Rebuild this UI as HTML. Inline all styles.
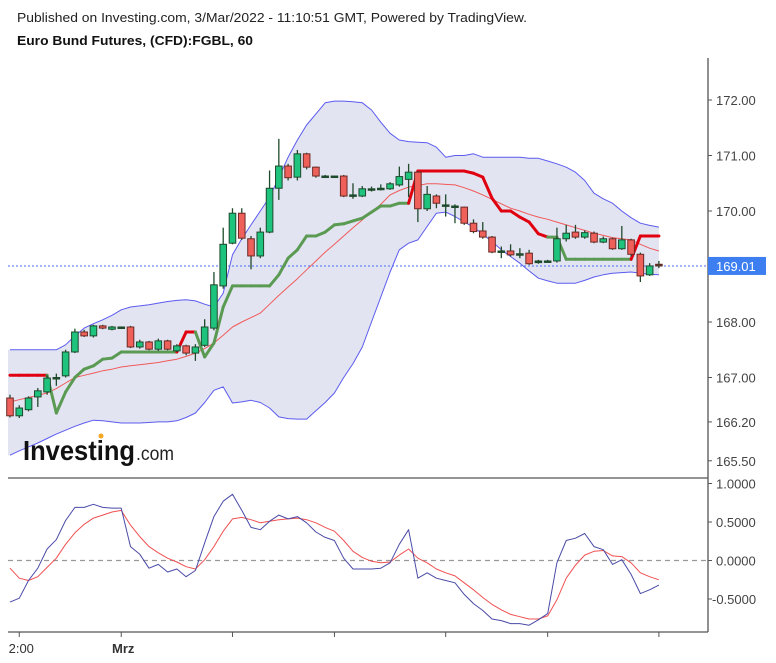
<!DOCTYPE html>
<html><head><meta charset="utf-8">
<style>
html,body{margin:0;padding:0;background:#fff;}
svg{display:block;font-family:"Liberation Sans",sans-serif;}
</style></head>
<body>
<svg id="chart" width="776" height="663" viewBox="0 0 776 663" xmlns="http://www.w3.org/2000/svg">
<rect width="776" height="663" fill="#fff"/>
<text x="17" y="22" font-size="13" fill="#222" textLength="510" lengthAdjust="spacingAndGlyphs">Published on Investing.com, 3/Mar/2022 - 11:10:51 GMT, Powered by TradingView.</text>
<text x="17" y="45" font-size="13" font-weight="bold" fill="#111" textLength="236" lengthAdjust="spacingAndGlyphs">Euro Bund Futures, (CFD):FGBL, 60</text>
<g id="main"></g>
<g id="ind"></g>
<g id="axes"></g>
<g>
<text x="23" y="460" font-size="28" font-weight="bold" fill="#111" textLength="112" lengthAdjust="spacingAndGlyphs">Investing</text>
<text x="136" y="460" font-size="19" fill="#222" textLength="38" lengthAdjust="spacingAndGlyphs">.com</text>
<circle cx="101" cy="436" r="2.5" fill="#f5a623"/>
</g>
</svg>
<script>
const open=[166.63,166.31,166.42,166.65,166.74,167.00,167.03,167.46,167.82,167.75,
167.93,167.87,167.91,167.91,167.55,167.64,167.51,167.66,167.48,167.57,
167.44,167.58,167.89,168.65,169.42,169.96,169.50,169.19,169.62,170.41,
170.81,170.61,171.03,170.79,170.63,170.63,170.63,170.29,170.27,170.40,
170.41,170.40,170.47,170.57,170.70,170.04,170.27,170.11,170.09,170.07,
169.78,169.64,169.53,169.28,169.28,169.23,169.24,169.07,169.10,169.10,
169.50,169.62,169.53,169.60,169.44,169.50,169.32,169.48,169.22,168.85,169.04];
const close=[166.31,166.45,166.63,166.76,166.99,167.00,167.46,167.82,167.75,167.93,
167.89,167.91,167.91,167.55,167.64,167.51,167.66,167.51,167.57,167.44,
167.55,167.91,168.67,169.40,169.96,169.51,169.19,169.62,170.41,170.81,
170.60,171.03,170.79,170.63,170.63,170.63,170.27,170.29,170.40,170.40,
170.41,170.49,170.62,170.70,170.04,170.30,170.14,170.11,170.09,169.78,
169.63,169.53,169.26,169.28,169.21,169.23,169.05,169.10,169.10,169.50,
169.60,169.53,169.61,169.44,169.50,169.32,169.48,169.22,168.83,169.01,169.01];
const high=[166.69,166.50,166.66,166.81,167.04,167.07,167.50,167.88,167.86,167.95,
167.95,167.93,167.92,167.93,167.68,167.66,167.70,167.68,167.60,167.59,
167.60,168.05,168.90,169.70,170.05,170.05,169.55,169.70,170.73,171.30,
170.85,171.10,171.05,170.80,170.65,170.64,170.65,170.50,170.45,170.44,
170.48,170.52,170.80,170.85,170.72,170.45,170.30,170.30,170.12,170.08,
169.85,169.80,169.55,169.36,169.40,169.33,169.30,169.12,169.12,169.70,
169.75,169.75,169.65,169.63,169.54,169.52,169.73,169.50,169.25,169.06,169.10];
const low=[166.28,166.27,166.39,166.47,166.69,166.85,167.00,167.44,167.73,167.72,
167.87,167.85,167.89,167.53,167.52,167.49,167.48,167.49,167.46,167.40,
167.30,167.55,167.85,168.60,169.40,169.48,168.95,169.15,169.60,170.20,
170.55,170.55,170.75,170.60,170.62,170.62,170.25,170.22,170.25,170.35,
170.37,170.38,170.44,170.25,169.80,170.00,170.05,169.90,169.78,169.75,
169.60,169.50,169.24,169.15,169.18,169.15,169.03,169.05,169.08,169.07,
169.45,169.50,169.50,169.42,169.42,169.30,169.30,169.18,168.72,168.83,168.97];
const trend=[167.04,167.04,167.04,167.04,167.04,166.36,166.74,167.00,167.15,167.21,
167.33,167.35,167.46,167.46,167.46,167.46,167.46,167.46,167.46,167.82,
167.82,167.37,167.62,168.27,168.65,168.65,168.65,168.65,168.65,168.85,
169.15,169.30,169.55,169.55,169.62,169.75,169.77,169.82,169.87,169.98,
170.09,170.09,170.14,170.14,170.72,170.72,170.72,170.72,170.72,170.72,
170.68,170.61,170.23,170.00,170.00,169.89,169.80,169.59,169.53,169.53,
169.13,169.13,169.13,169.13,169.13,169.13,169.13,169.13,169.55,169.55,169.55];
const trendDir=[-1,-1,-1,-1,-1,1,1,1,1,1, 1,1,1,1,1,1,1,1,1,-1,
-1,1,1,1,1,1,1,1,1,1, 1,1,1,1,1,1,1,1,1,1, 1,1,1,1,-1,-1,-1,-1,-1,-1,
-1,-1,-1,-1,-1,-1,-1,-1,-1,1, 1,1,1,1,1,1,1,1,-1,-1,-1];
const basis=[166.56,166.60,166.64,166.68,166.72,166.80,166.90,167.00,167.04,167.08,
167.12,167.15,167.19,167.21,167.23,167.25,167.27,167.30,167.33,167.38,
167.44,167.52,167.62,167.76,167.91,168.00,168.08,168.16,168.32,168.48,
168.63,168.78,168.94,169.10,169.26,169.40,169.55,169.70,169.84,169.98,
170.12,170.29,170.37,170.43,170.46,170.49,170.49,170.48,170.47,170.42,
170.36,170.29,170.21,170.13,170.05,170.00,169.94,169.89,169.85,169.80,
169.75,169.70,169.65,169.60,169.56,169.52,169.50,169.48,169.40,169.33,169.28];
const upper=[167.50,167.50,167.50,167.50,167.50,167.50,167.59,167.75,167.89,167.97,
168.04,168.12,168.22,168.27,168.29,168.31,168.34,168.37,168.39,168.40,
168.38,168.32,168.27,168.52,169.21,169.50,169.75,170.00,170.25,170.60,
170.97,171.28,171.55,171.75,171.95,171.98,171.98,171.97,171.95,171.82,
171.60,171.40,171.28,171.25,171.24,171.23,171.15,170.97,171.00,171.00,
171.03,170.97,170.97,170.97,170.97,170.97,170.95,170.95,170.90,170.85,
170.79,170.70,170.55,170.32,170.22,170.14,170.00,169.88,169.78,169.74,169.71];
const lower=[165.60,165.68,165.75,165.82,165.90,165.98,166.05,166.12,166.18,166.23,
166.22,166.20,166.18,166.18,166.18,166.19,166.20,166.20,166.22,166.28,
166.36,166.55,166.77,166.83,166.54,166.56,166.59,166.55,166.45,166.29,
166.26,166.25,166.25,166.40,166.55,166.72,167.00,167.25,167.55,168.00,
168.45,168.90,169.30,169.42,169.48,169.72,169.96,169.98,169.90,169.80,
169.71,169.58,169.45,169.30,169.18,169.06,168.92,168.79,168.74,168.70,
168.70,168.70,168.75,168.81,168.85,168.88,168.89,168.90,168.88,168.86,168.85];
const oscMain=[-0.54,-0.49,-0.26,-0.10,0.15,0.27,0.52,0.69,0.69,0.73,
0.69,0.68,0.68,0.18,0.08,-0.10,-0.05,-0.15,-0.11,-0.21,
-0.13,0.23,0.57,0.77,0.86,0.65,0.43,0.40,0.51,0.59,
0.54,0.57,0.49,0.37,0.30,0.26,0.03,-0.11,-0.11,-0.11,
-0.10,-0.03,0.21,0.40,-0.23,-0.16,-0.23,-0.26,-0.29,-0.44,
-0.56,-0.65,-0.76,-0.78,-0.82,-0.82,-0.84,-0.77,-0.69,-0.03,
0.26,0.29,0.35,0.18,0.14,-0.05,0.01,-0.18,-0.43,-0.38,-0.32];
const oscSignal=[-0.10,-0.23,-0.26,-0.21,-0.09,0.03,0.21,0.36,0.47,0.55,
0.59,0.63,0.65,0.46,0.31,0.18,0.10,0.03,-0.02,-0.08,
-0.11,0.01,0.18,0.38,0.54,0.56,0.53,0.49,0.51,0.53,
0.54,0.55,0.53,0.49,0.43,0.38,0.26,0.12,0.04,-0.01,
-0.03,-0.02,0.07,0.15,0.03,-0.03,-0.11,-0.16,-0.20,-0.29,
-0.38,-0.48,-0.57,-0.64,-0.70,-0.73,-0.76,-0.76,-0.72,-0.51,
-0.23,-0.06,0.07,0.12,0.13,0.06,0.05,-0.03,-0.16,-0.21,-0.25];
const priceTicks=["172.00","171.00","170.00","168.00","167.00","166.20","165.50"];
const oscTicks=["1.0000","0.5000","0.0000","-0.5000"];
const lastPrice=169.01;
const timeTicks=["2:00","Mrz","","","","",""];
const timeTickIdx=[1,12,24,35,47,58,70];

const NS="http://www.w3.org/2000/svg";
const X=i=>10+i*9.27;
const Y=p=>100+(172-p)*55.5;
const OY=v=>560.5-v*77;
function mk(tag,attrs,parent){const e=document.createElementNS(NS,tag);for(const k in attrs)e.setAttribute(k,attrs[k]);parent.appendChild(e);return e;}
const main=document.getElementById('main'),ind=document.getElementById('ind'),axes=document.getElementById('axes');

let d="M8,"+Y(upper[0]).toFixed(1);
upper.forEach((v,i)=>d+=" L"+X(i).toFixed(1)+","+Y(v).toFixed(1));
for(let i=lower.length-1;i>=0;i--)d+=" L"+X(i).toFixed(1)+","+Y(lower[i]).toFixed(1);
d+=" L8,"+Y(lower[0]).toFixed(1)+" Z";
let band=mk('path',{d:d,fill:'#e3e4f1',stroke:'none'},main);


function poly(arr,fy,stroke,w,parent,name){
  const pts=arr.map((v,i)=>X(i).toFixed(1)+","+fy(v).toFixed(1)).join(" ");
  const e=mk('polyline',{points:pts,fill:'none',stroke:stroke,'stroke-width':w,'stroke-linejoin':'round'},parent);
  
  
  return e;
}
poly(upper,Y,'#5b5bf0',1,main,'bollinger-upper');
poly(lower,Y,'#5b5bf0',1,main,'bollinger-lower');
poly(basis,Y,'#f05a5a',1,main,'bollinger-basis');

let lp=mk('line',{x1:8,x2:708,y1:Y(lastPrice),y2:Y(lastPrice),stroke:'#4a6cf0','stroke-width':1,'stroke-dasharray':'2,2'},main);



for(let i=1;i<trend.length;i++){
  const up=trendDir[i]>0;
  const s=mk('line',{x1:X(i-1),y1:Y(trend[i-1]),x2:X(i),y2:Y(trend[i]),stroke:up?'#5a9a52':'#e0000f','stroke-width':3,'stroke-linecap':'round'},main);
  
  
}

for(let i=0;i<open.length;i++){
  const g=mk('g',{},main);
  
  
  const x=X(i);
  mk('line',{x1:x,x2:x,y1:Y(high[i]),y2:Y(low[i]),stroke:'#1f4a2c','stroke-width':1.3},g);
  const up=close[i]>=open[i];
  const top=Y(Math.max(open[i],close[i])),bot=Y(Math.min(open[i],close[i]));
  const h=Math.max(bot-top,1.5);
  mk('rect',{x:x-3.3,y:top,width:6.6,height:h,fill:(bot-top<2)?'#1f4a2c':(up?'#1ec47e':'#f0605a'),stroke:up?'#1f4a2c':'#6b2a26','stroke-width':1},g);
}

let zl=mk('line',{x1:8,x2:708,y1:OY(0),y2:OY(0),stroke:'#999','stroke-width':1.3,'stroke-dasharray':'5,4'},ind);


poly(oscSignal,OY,'#f05050',1,ind,'oscillator-signal');
poly(oscMain,OY,'#4a4aa8',1,ind,'oscillator-main');

const ax=[[8,478,708,478],[8,632,708,632],[708,58,708,632]];
ax.forEach((a,k)=>{const l=mk('line',{x1:a[0],y1:a[1],x2:a[2],y2:a[3],stroke:'#555','stroke-width':1.3},axes);

});
priceTicks.forEach(t=>{const y=Y(parseFloat(t));
  mk('line',{x1:708,x2:712,y1:y,y2:y,stroke:'#555'},axes);
  const e=mk('text',{x:716,y:y+5,'font-size':13,fill:'#444'},axes);e.textContent=t;
  
  });
oscTicks.forEach(t=>{const y=OY(parseFloat(t));
  mk('line',{x1:708,x2:712,y1:y,y2:y,stroke:'#555'},axes);
  const e=mk('text',{x:t[0]=='-'?712:716,y:y+5,'font-size':13,fill:'#444'},axes);e.textContent=t;
  
  });
const by=Y(lastPrice);
let bd=mk('rect',{x:708,y:by-9,width:58,height:18,fill:'#3d7ff0'},axes);


let bt=mk('text',{x:716,y:by+5,'font-size':13,fill:'#fff'},axes);bt.textContent=lastPrice.toFixed(2);


timeTickIdx.forEach((ix,k)=>{const x=X(ix);
  mk('line',{x1:x,x2:x,y1:632,y2:637,stroke:'#555'},axes);
  if(timeTicks[k]){const e=mk('text',{x:x+2,y:653,'font-size':13,fill:'#333','text-anchor':'middle','font-weight':timeTicks[k]=='Mrz'?'bold':'normal'},axes);
  e.textContent=timeTicks[k];
  
  }});
</script>
</body></html>
